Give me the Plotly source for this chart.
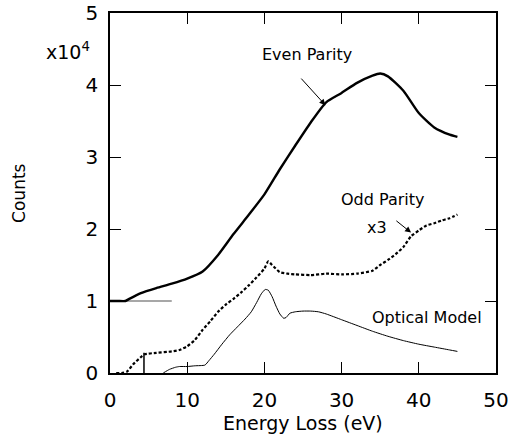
import plotly.graph_objects as go

# Even parity spectrum (x10^4 counts)
even_x = [0, 1.0, 2.0, 2.5, 4, 6, 8, 10, 12, 14, 16, 18, 20, 22, 24, 26, 28, 30, 32, 34, 35, 36, 38, 40, 42, 44, 45]
even_y = [1.0, 1.0, 1.0, 1.03, 1.11, 1.18, 1.24, 1.31, 1.41, 1.64, 1.93, 2.20, 2.48, 2.83, 3.16, 3.48, 3.76, 3.89, 4.03, 4.13, 4.16, 4.12, 3.92, 3.61, 3.41, 3.31, 3.28]

# Odd parity spectrum (x3)
odd_x = [0.8, 1.5, 2.2, 3, 4, 4.5, 6, 8, 9, 10, 11, 12, 13, 14, 15, 16, 17, 18, 19, 20, 20.5, 21, 22, 23, 24, 26, 28, 30, 32, 34, 35, 36, 37, 38, 39, 40, 41, 42, 43, 44, 45]
odd_y = [0.0, 0.0, 0.02, 0.12, 0.22, 0.26, 0.28, 0.30, 0.32, 0.37, 0.46, 0.60, 0.72, 0.85, 0.95, 1.03, 1.12, 1.22, 1.33, 1.45, 1.55, 1.50, 1.40, 1.38, 1.37, 1.36, 1.38, 1.37, 1.38, 1.42, 1.50, 1.57, 1.65, 1.75, 1.90, 1.98, 2.05, 2.08, 2.12, 2.15, 2.20]

# Optical model
opt_x = [6.9, 7.7, 8.5, 9, 10, 11, 12.3, 12.8, 13.5, 14.5, 15.5, 16.5, 17.5, 18.3, 19, 19.6, 20.1, 20.5, 21, 21.5, 22, 22.5, 22.8, 23.3, 24, 25, 26, 27, 28, 30, 32, 34, 36, 38, 40, 42, 44, 45]
opt_y = [0.0, 0.05, 0.08, 0.09, 0.09, 0.10, 0.11, 0.17, 0.26, 0.40, 0.53, 0.64, 0.75, 0.85, 0.98, 1.10, 1.16, 1.15, 1.06, 0.93, 0.82, 0.76, 0.77, 0.83, 0.85, 0.86, 0.86, 0.85, 0.82, 0.74, 0.66, 0.58, 0.51, 0.45, 0.40, 0.36, 0.32, 0.30]

# baseline of even-parity curve and marker line
base_x = [0, 8]
base_y = [1, 1]
spike_x = [4.4, 4.4]
spike_y = [0, 0.28]

x_ticks = [0, 10, 20, 30, 40, 50]
y_ticks = [0, 1, 2, 3, 4, 5]

FONT = "DejaVu Sans, Liberation Sans, sans-serif"

fig = go.Figure()
fig.add_trace(go.Scatter(x=base_x, y=base_y, mode="lines", line=dict(color="#8a8a8a", width=1.5)))
fig.add_trace(go.Scatter(x=even_x, y=even_y, mode="lines",
                         line=dict(color="black", width=2.4, shape="spline", smoothing=0.6)))
fig.add_trace(go.Scatter(x=odd_x, y=odd_y, mode="lines",
                         line=dict(color="black", width=2.2, dash="3px,2px", shape="spline", smoothing=0.5)))
fig.add_trace(go.Scatter(x=spike_x, y=spike_y, mode="lines", line=dict(color="black", width=1.5)))
fig.add_trace(go.Scatter(x=opt_x, y=opt_y, mode="lines",
                         line=dict(color="black", width=1, shape="spline", smoothing=0.5)))

axis_common = dict(
    showgrid=False, zeroline=False, showline=True, linecolor="black", linewidth=1.5,
    mirror="ticks", ticks="inside", ticklen=11, tickwidth=1, tickcolor="black",
    tickfont=dict(family=FONT, size=20, color="black"), automargin=False,
    ticklabeloverflow="allow",
)
fig.update_xaxes(range=[0, 50], tickvals=x_ticks, ticktext=[str(v) for v in x_ticks],
                 ticklabelstandoff=8, **axis_common)
fig.update_yaxes(range=[0, 5], tickvals=y_ticks, ticktext=[str(v) for v in y_ticks],
                 ticklabelstandoff=6, **axis_common)

anns = [
    dict(text="Energy Loss (eV)", xref="paper", yref="paper", x=0.5, y=-0.138, showarrow=False,
         font=dict(size=19), xanchor="center", yanchor="middle"),
    dict(text="Counts", xref="paper", yref="paper", x=-0.236, y=0.5, showarrow=False, textangle=-90,
         font=dict(size=17), xanchor="center", yanchor="middle"),
    dict(text="x10<sup>4</sup>", xref="paper", yref="paper", x=-0.110, y=0.895, showarrow=False,
         font=dict(size=19), xanchor="center", yanchor="middle"),
    dict(text="Even Parity", x=25.5, y=4.42, showarrow=False, font=dict(size=16)),
    dict(text="", x=27.9, y=3.72, ax=24.6, ay=4.11, axref="x", ayref="y", showarrow=True,
         arrowhead=2, arrowsize=1.2, arrowwidth=1, arrowcolor="black"),
    dict(text="Odd Parity", x=35.3, y=2.41, showarrow=False, font=dict(size=16)),
    dict(text="x3", x=34.6, y=2.02, showarrow=False, font=dict(size=16)),
    dict(text="", x=39.0, y=1.95, ax=36.9, ay=2.13, axref="x", ayref="y", showarrow=True,
         arrowhead=2, arrowsize=1.2, arrowwidth=1, arrowcolor="black"),
    dict(text="Optical Model", x=41.1, y=0.77, showarrow=False, font=dict(size=16)),
]
fig.update_layout(
    template="none",
    width=508, height=435,
    margin=dict(l=110, r=12, t=13, b=62),
    plot_bgcolor="white", paper_bgcolor="white",
    showlegend=False,
    font=dict(family=FONT, color="black"),
    annotations=anns,
)
fig.write_html("out.html")
